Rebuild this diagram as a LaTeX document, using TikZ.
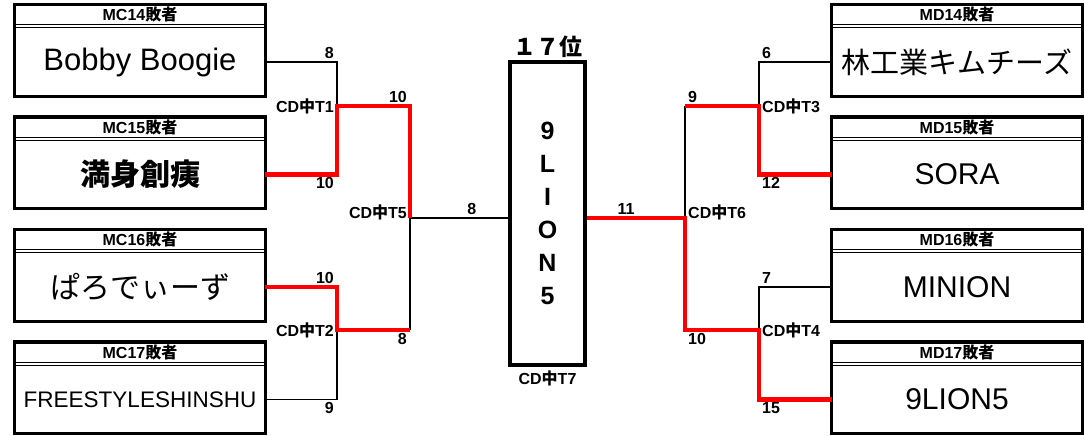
\documentclass[tikz,border=0pt]{standalone}
\usepackage{fontspec}
\setmainfont{Liberation Sans}
\newfontfamily\jpfont{Noto Sans CJK JP}
\usetikzlibrary{positioning}
\newcommand{\ja}[1]{{\jpfont #1}}
\newcommand{\entry}[4]{
    \node[namebox] (#1) at (#2) {#4};
    \node[headbox,above=3pt of #1] (#1-h) {#3};
    \draw[frame] (#1-h.north west) rectangle (#1.south east);
    \draw[rule] (#1-h.south west) -- (#1-h.south east)
        (#1.north west) -- (#1.north east);
}

\begin{document}
\begin{tikzpicture}[
        x=1pt,y=-1pt,
        namebox/.style={
            minimum width=250pt,
            minimum height=68pt,
            inner sep=0pt,
            font=\fontsize{30}{30}\selectfont,
        },
        headbox/.style={
            minimum width=250pt,
            minimum height=20pt,
            inner sep=0pt,
            font=\fontsize{16}{16}\selectfont\bfseries,
        },
        frame/.style={draw=black,line width=3.2pt},
        rule/.style={draw=black,line width=1pt},
        lose/.style={draw=black,line width=1.5pt},
        win/.style={draw=red,line width=4.3pt},
        score/.style={inner sep=3pt,font=\fontsize{16}{16}\selectfont\bfseries},
        champ/.style={
            draw=black,
            line width=3.5pt,
            minimum width=75pt,
            minimum height=303pt,
            align=center,
            font=\fontsize{25}{33}\selectfont\bfseries,
        },
    ]
    \useasboundingbox (0,0) rectangle (1084,436);

    % entrants
    \foreach \id/\x/\y/\hd/\nm in {
            mc14/140/62/MC14/{\fontsize{31}{31}\selectfont Bobby Boogie},
            mc15/140/174.5/MC15/\ja{\bfseries 満身創痍},
            mc16/140/287/MC16/\ja{ぱろでぃーず},
            mc17/140/399.5/MC17/{\fontsize{22.5}{22.5}\selectfont FREESTYLESHINSHU},
            md14/957/62/MD14/\ja{\fontsize{29}{29}\selectfont 林工業キムチーズ},
            md15/957/174.5/MD15/SORA,
            md16/957/287/MD16/MINION,
            md17/957/399.5/MD17/9LION5}{
        \entry{\id}{\x,\y}{\hd\ja{敗者}}{\nm}
    }

    \node[champ] (final) at (547.5,213.5) {9\\L\\I\\O\\N\\5};
    \node[above=2pt of final,inner sep=0pt,font=\fontsize{23}{23}\selectfont\bfseries] (rank) {\ja{１７位}};
    \node[score,below=1pt of final] (t7) {CD\ja{中}T7};

    \coordinate (t1) at (337,106);
    \coordinate (t2) at (337,330);
    \coordinate (t5) at (410,218);
    \coordinate (t3) at (759,106);
    \coordinate (t4) at (759,330);
    \coordinate (t6) at (685,218);

    % losing lines
    \draw[lose] (mc14.east) -| (t1);
    \draw[lose] (mc17.east) -| (t2);
    \draw[lose] (t2 -| t5) -- (t5) -- (t5 -| final.west)
        node[score,above,pos=0.63] (s7l) {8};
    \draw[lose] (md14.west) -| (t3);
    \draw[lose] (md16.west) -| (t4);
    \draw[lose] (t3 -| t6) -- (t6);

    % winning lines
    \draw[win] (mc15.east) -| (t1) -| (t5);
    \draw[win] (mc16.east) -| (t2) -- (t2 -| t5);
    \draw[win] (md15.west) -| (t3) -- (t3 -| t6);
    \draw[win] (final.east |- t6) -- (t6) |- (t4) |- (md17.west);
    \path (final.east |- t6) -- (t6) node[score,above,pos=0.4] (s7r) {11};

    % scores and match names
    \node[score,above left] (s1a) at (t1 |- mc14) {8};
    \node[score,below left] (s1b) at (t1 |- mc15) {10};
    \node[score,left] (n1) at (t1) {CD\ja{中}T1};
    \node[score,above left] (s2a) at (t2 |- mc16) {10};
    \node[score,below left] (s2b) at (t2 |- mc17) {9};
    \node[score,left] (n2) at (t2) {CD\ja{中}T2};
    \node[score,above left] (s5a) at (t5 |- t1) {10};
    \node[score,below left] (s5b) at (t5 |- t2) {8};
    \node[score,left,yshift=6pt] (n5) at (t5) {CD\ja{中}T5};

    \node[score,above right] (s3a) at (t3 |- md14) {6};
    \node[score,below right] (s3b) at (t3 |- md15) {12};
    \node[score,right] (n3) at (t3) {CD\ja{中}T3};
    \node[score,above right] (s4a) at (t4 |- md16) {7};
    \node[score,below right] (s4b) at (t4 |- md17) {15};
    \node[score,right] (n4) at (t4) {CD\ja{中}T4};
    \node[score,above right] (s6a) at (t6 |- t3) {9};
    \node[score,below right] (s6b) at (t6 |- t4) {10};
    \node[score,right,yshift=6pt] (n6) at (t6) {CD\ja{中}T6};
\end{tikzpicture}
\end{document}
